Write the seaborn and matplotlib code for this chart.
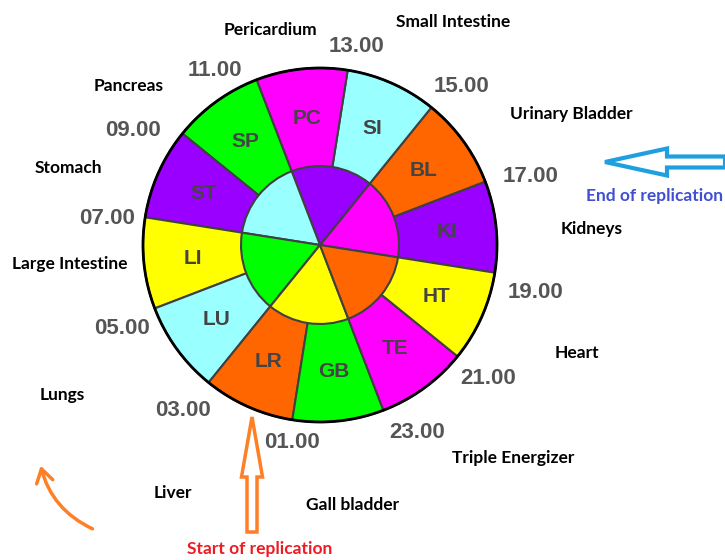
import numpy as np
import matplotlib.pyplot as plt
import matplotlib.patches as mpatches
import seaborn as sns

# outer ring, counter-clockwise starting at the 19.00 spoke
abbrevs = ['KI', 'BL', 'SI', 'PC', 'SP', 'ST', 'LI', 'LU', 'LR', 'GB', 'TE', 'HT']
organs = ['Kidneys', 'Urinary Bladder', 'Small Intestine', 'Pericardium', 'Pancreas',
          'Stomach', 'Large Intestine', 'Lungs', 'Liver', 'Gall bladder',
          'Triple Energizer', 'Heart']
hours = ['19.00', '17.00', '15.00', '13.00', '11.00', '09.00',
         '07.00', '05.00', '03.00', '01.00', '23.00', '21.00']
hours_per_organ = [2] * 12

purple, orange, cyan, magenta = '#9900FF', '#FF6600', '#99FFFF', '#FF00FF'
green, yellow = '#00FF00', '#FFFF00'
outer_colors = [purple, orange, cyan, magenta, green, purple,
                yellow, cyan, orange, green, magenta, yellow]
inner_colors = [magenta, purple, cyan, green, yellow, orange]
inner_sizes = [4] * 6

# layout (pixel coords of the 725x560 picture, y from top)
W, H = 725, 560
cx, cy = 320, 245
R_out, R_in = 177, 79
organ_pos = [(592, 229), (571, 114), (453, 22), (270, 30), (129, 86), (68, 168),
             (70, 264), (62, 395), (173, 493), (353, 505), (513, 458), (577, 353)]
hour_pos = [(536, 293), (531, 176), (462, 87), (357, 47), (215, 70), (133, 130),
            (107, 218), (122, 328), (183, 410), (292, 442), (417, 432), (488, 378)]

sns.set_theme(style='white')
plt.rcParams['font.family'] = ['Lato', 'DejaVu Sans']

fig = plt.figure(figsize=(W / 100, H / 100), dpi=100)
ax = fig.add_axes([0, 0, 1, 1])

edge = dict(edgecolor='#404040', linewidth=1.5)
wedges, _ = ax.pie(hours_per_organ, colors=outer_colors, startangle=-9,
                   counterclock=True, radius=R_out, center=(cx, H - cy),
                   wedgeprops=edge)
ax.pie(inner_sizes, colors=inner_colors, startangle=-9, counterclock=True,
       radius=R_in, center=(cx, H - cy), wedgeprops=edge)
ax.add_patch(mpatches.Circle((cx, H - cy), R_out, fill=False, ec='black', lw=2, zorder=5))

for w, ab, hr, name, (px, py), (hx, hy) in zip(wedges, abbrevs, hours, organs,
                                               organ_pos, hour_pos):
    mid = np.deg2rad((w.theta1 + w.theta2) / 2)
    ax.text(cx + 0.72 * R_out * np.cos(mid), H - cy + 0.72 * R_out * np.sin(mid), ab,
            ha='center', va='center', fontsize=15, fontweight='bold',
            color='#444444', family='Liberation Sans')
    ax.text(hx, H - hy, hr, ha='center', va='center', fontsize=16, fontweight='bold',
            color='#555555', family='Liberation Sans')
    ax.text(px, H - py, name, ha='center', va='center', fontsize=12.5,
            fontweight='bold', color='black')

# replication markers
ax.add_patch(mpatches.FancyArrow(725, H - 162, -120, 0, width=11, head_width=27,
                                 head_length=62, length_includes_head=True,
                                 fill=False, ec='#1EA0E0', lw=3))
ax.text(655, H - 196, 'End of replication', ha='center', va='center',
        fontsize=12.5, fontweight='bold', color='#4050D0')
ax.add_patch(mpatches.FancyArrow(252, H - 532, 0, 115, width=10, head_width=21,
                                 head_length=60, length_includes_head=True,
                                 fill=False, ec='#FF7F27', lw=2.5))
ax.text(260, H - 549, 'Start of replication', ha='center', va='center',
        fontsize=12.5, fontweight='bold', color='#ED1C24')
ax.annotate('', xy=(40, H - 463), xytext=(95, H - 530),
            arrowprops=dict(arrowstyle='->,head_length=0.8,head_width=0.5',
                            connectionstyle='arc3,rad=-0.25', color='#FF7F27', lw=2.5))

ax.set_xlim(0, W)
ax.set_ylim(0, H)
ax.set_aspect('equal')
ax.axis('off')
fig.savefig('out.png', dpi=100, facecolor='white')
